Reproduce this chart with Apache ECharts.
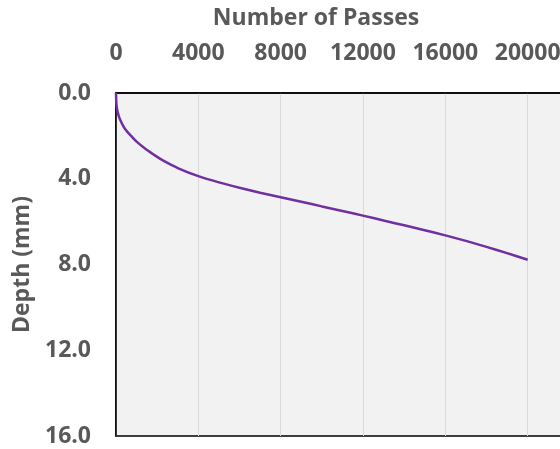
<!DOCTYPE html>
<html>
<head>
<meta charset="utf-8">
<script src="https://cdn.jsdelivr.net/npm/echarts@6/dist/echarts.min.js"></script>
<style>
  html, body { margin: 0; padding: 0; background: #ffffff; }
  #chart { width: 560px; height: 449px; }
</style>
</head>
<body>
<div id="chart"></div>
<script>
// Rut depth versus number of wheel passes
const passes = [0, 25, 80, 170, 400, 710, 1000, 1440, 2000, 2320, 3000, 4000, 5000, 6000, 7000, 8000,
                9000, 10000, 11000, 12000, 13000, 14000, 15000, 16000, 17000, 18000, 19000, 20000];
const depthMm = [0, 0.56, 0.88, 1.18, 1.62, 1.98, 2.27, 2.61, 2.98, 3.17, 3.5, 3.88, 4.17, 4.42, 4.65, 4.86,
                 5.07, 5.29, 5.5, 5.72, 5.95, 6.17, 6.4, 6.64, 6.9, 7.18, 7.47, 7.78];
const xTitle = 'Number of Passes';
const yTitle = 'Depth (mm)';

const textColor = '#595959';
const fontFamily = '"Open Sans", "Liberation Sans", sans-serif';

const chart = echarts.init(document.getElementById('chart'), null, { renderer: 'canvas' });

chart.setOption({
  animation: false,
  backgroundColor: '#ffffff',
  title: {
    text: xTitle,
    left: 311,
    top: 2,
    textAlign: 'center',
    textStyle: { color: textColor, fontFamily: fontFamily, fontWeight: 'bold', fontSize: 23 }
  },
  grid: {
    left: 116,
    top: 93,
    width: 494,
    height: 343,
    outerBoundsMode: 'none',
    containLabel: false,
    show: true,
    backgroundColor: '#f2f2f2',
    borderColor: '#000000',
    borderWidth: 1.5
  },
  xAxis: {
    type: 'value',
    position: 'top',
    min: 0,
    max: 24000,
    interval: 4000,
    axisLine: { show: true, lineStyle: { color: '#000000', width: 1.5 } },
    axisTick: { show: false },
    splitLine: { show: true, lineStyle: { color: '#d9d9d9', width: 1 } },
    axisLabel: {
      margin: 28,
      color: textColor,
      fontFamily: fontFamily,
      fontWeight: 'bold',
      fontSize: 23,
      showMaxLabel: false,
      formatter: v => String(v)
    }
  },
  yAxis: {
    type: 'value',
    inverse: true,
    min: 0,
    max: 16,
    interval: 4,
    name: yTitle,
    nameLocation: 'middle',
    nameGap: 69,
    nameRotate: 90,
    nameTextStyle: { color: textColor, fontFamily: fontFamily, fontWeight: 'bold', fontSize: 23 },
    axisLine: { show: true, lineStyle: { color: '#000000', width: 1.5 } },
    axisTick: { show: false },
    splitLine: { show: false },
    axisLabel: {
      margin: 25,
      color: textColor,
      fontFamily: fontFamily,
      fontWeight: 'bold',
      fontSize: 23,
      formatter: v => v.toFixed(1)
    }
  },
  series: [{
    type: 'line',
    data: passes.map((p, i) => [p, depthMm[i]]),
    smooth: 0.3,
    showSymbol: false,
    lineStyle: { color: '#7030a0', width: 2.5 }
  }]
});
</script>
</body>
</html>
